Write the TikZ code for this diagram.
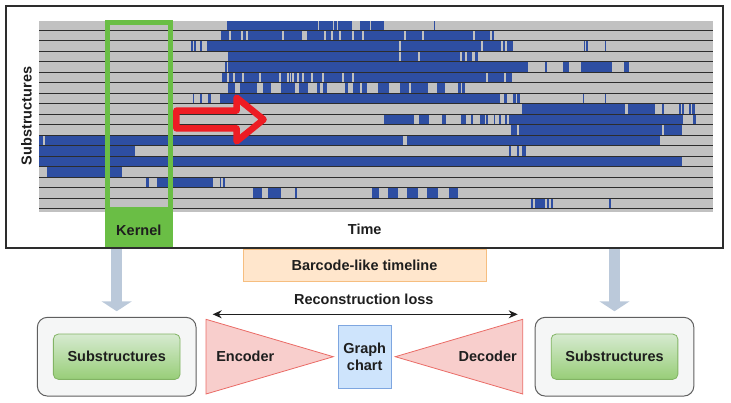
\documentclass[tikz,border=0pt]{standalone}
\usepackage{fontspec}
\setmainfont{Liberation Sans}
\usetikzlibrary{arrows.meta,positioning}
\definecolor{barblue}{RGB}{46,78,162}
\definecolor{bargray}{RGB}{193,193,193}
\definecolor{rowline}{RGB}{45,45,45}
\definecolor{kernelgreen}{RGB}{106,190,69}
\definecolor{arrowred}{RGB}{237,28,36}
\definecolor{flowgray}{RGB}{187,201,218}
\definecolor{boxgray}{RGB}{245,246,246}
\definecolor{boxedge}{RGB}{95,95,95}
\definecolor{subfillA}{RGB}{214,234,208}
\definecolor{subfillB}{RGB}{152,206,120}
\definecolor{subedge}{RGB}{130,180,100}
\definecolor{tlfill}{RGB}{255,230,204}
\definecolor{tledge}{RGB}{246,190,128}
\definecolor{codfill}{RGB}{248,206,204}
\definecolor{codedge}{RGB}{234,107,102}
\definecolor{gcfill}{RGB}{206,228,252}
\definecolor{gcedge}{RGB}{126,166,224}
\definecolor{darktext}{RGB}{30,30,30}

\begin{document}
\begin{tikzpicture}[x=1pt,y=-1pt,
  lbl/.style={font=\fontsize{14.5}{17}\selectfont\bfseries,text=darktext,align=center,inner sep=0pt},
  outerbox/.style={draw=boxedge,fill=boxgray,rounded corners=10pt,line width=1pt,minimum width=158.7pt,minimum height=78.7pt},
  subbox/.style={lbl,draw=subedge,top color=subfillA,bottom color=subfillB,rounded corners=5pt,line width=0.8pt,minimum width=126.7pt,minimum height=45.3pt},
  coder/.style={draw=codedge,fill=codfill,line width=0.8pt},
  bigarrow/.style={flowgray,line width=11.5pt,-{Triangle[length=10pt,width=30pt]},shorten >=5.6pt},
  lossarrow/.style={{Stealth[length=9pt,width=8pt]}-{Stealth[length=9pt,width=8pt]},line width=1pt,darktext}
]
  \useasboundingbox (0,0) rectangle (731,402);
  \node[draw=rowline,line width=1.2pt,minimum width=717pt,minimum height=242pt,inner sep=0pt] (frame) at (364.5,127) {};

  % barcode rows
  \begin{scope}
    \clip (39,21) rectangle (713,212);
    \fill[bargray] (39,21) rectangle (713,212);
    \foreach \r/\segs in {
      0/{227/318,319/333,334/337,338/352,360/370,371/384,433.5/435},
      1/{221/302,307/494},
      2/{191/196,200/202,207/513,584/585,586/587.5,604.5/606},
      3/{228/472,474.5/478},
      4/{225/226.5,228/528,544.5/547,563/569,581/612,624/629},
      5/{222/512},
      6/{228/235,240/257,263/271,281/295,299/308,317/320,323/327,345/348,353/360,362/367,378/389,400/409,411/428,437/445,458/461,462/465},
      7/{192.5/194,200/202,208/211,220/500,503.5/506.5,513/516,517/520,582.5/584,604.5/606},
      8/{522/625,628/655,662/664,679/681,682/684,689/691,692/695},
      9/{384/414,419/429,442/446,461/466,471/473,480/485,486/488,493.5/495,499/501,505/507,509/683,693/695.5},
      10/{511/517,518.5/661.5,664/682},
      11/{39/43,45/403,407/660},
      12/{39/135,508.5/511,517/518.5,522/526},
      13/{39/681.5},
      14/{46.5/121.5},
      15/{146/148.5,157/213,219.5/221,222.5/224.5},
      16/{253/262,268/281,295/297,371.5/379,388/398,407/418,427/438,449/458},
      17/{531/533,534.5/545,547/549,550.5/552.5,609/610.5}}
      \foreach \a/\b in \segs
        \fill[barblue] (\a,19.5+10.5*\r) rectangle (\b,30+10.5*\r);
    % thin gaps inside the long bars
    \foreach \r/\x in {1/230,1/242,1/247,1/283,1/325,1/332,1/340,1/353,1/363,1/405,1/423,1/474,1/491,
      2/193.5,2/400,2/482,2/502,2/506,3/400,3/419,3/461,3/466,
      5/228,5/234,5/243,5/260,5/280,5/288,5/290.5,5/293,5/298,5/303,5/312,5/323,5/343,5/353,5/487,5/505}
      \fill[bargray] (\x-0.6,19.5+10.5*\r) rectangle (\x+0.6,30+10.5*\r);
    \foreach \k in {0,...,17}
      \draw[rowline,line width=0.8pt] (39,30+10.5*\k) -- (713,30+10.5*\k);
  \end{scope}

  % kernel window and shift arrow
  \draw[kernelgreen,line width=5.5pt] (107.6,22.5) rectangle (170.4,210);
  \node[fill=kernelgreen,minimum width=68.5pt,minimum height=38.5pt,inner sep=0pt] (kernel) at (138.8,227.3) {};
  \node[lbl] (kerneltxt) at (138.8,230) {Kernel};
  \draw[arrowred,line width=6.5pt,line join=round] (176.4,110.6) -- (236.6,110.6) -- (236.6,97.6) -- (263.6,119.5)
    -- (236.6,141.4) -- (236.6,128.4) -- (176.4,128.4) -- cycle;
  \node[lbl,rotate=90] (ylabel) at (26.5,116) {Substructures};
  \node[lbl] (time) at (364.7,229.8) {Time};

  % lower half
  \node[lbl,draw=tledge,fill=tlfill,minimum width=243pt,minimum height=32.4pt,line width=0.8pt] (timeline) at (364.5,265.5) {Barcode-like timeline};
  \node[outerbox] (outL) at (116.7,356.7) {};
  \node[subbox] (subL) at (116.7,356.7) {Substructures};
  \node[outerbox] (outR) at (614.5,356.7) {};
  \node[subbox] (subR) at (614.5,356.7) {Substructures};
  \draw[coder] (206,319.3) -- (333.3,356.7) -- (206,394) -- cycle;
  \node[lbl] (enc) at (245.3,356.5) {Encoder};
  \draw[coder] (522.7,319.3) -- (395.3,356.7) -- (522.7,394) -- cycle;
  \node[lbl] (dec) at (487.7,356.5) {Decoder};
  \node[lbl,draw=gcedge,fill=gcfill,minimum width=52.7pt,minimum height=63.3pt,line width=0.8pt] (graph) at (364.7,356.7) {Graph\\chart};
  \node[lbl] (losslabel) at (363.8,299) {Reconstruction loss};
  \coordinate (lossL) at (212.7,314.3);
  \coordinate (lossR) at (517.7,314.3);
  \draw[lossarrow] (lossL) -- (lossR);
  \draw[bigarrow] ([yshift=-0.6pt]frame.south -| outL.north) -- (outL.north);
  \draw[bigarrow] ([yshift=-0.6pt]frame.south -| outR.north) -- (outR.north);
\end{tikzpicture}
\end{document}
